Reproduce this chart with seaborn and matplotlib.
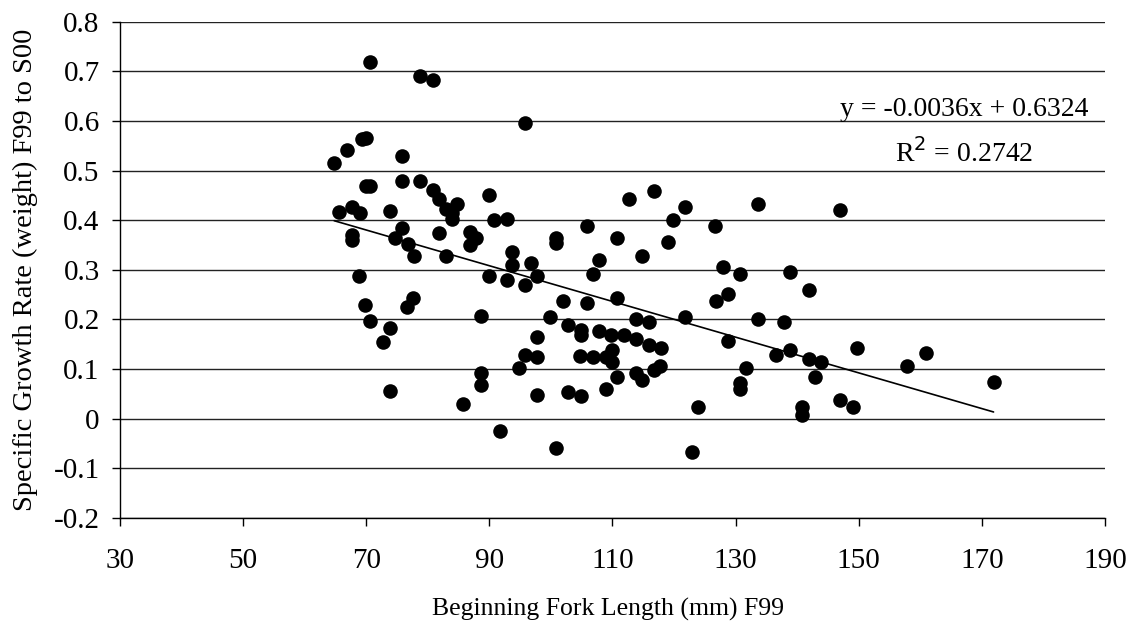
import numpy as np
import pandas as pd
import matplotlib
matplotlib.use("Agg")
import matplotlib.pyplot as plt
import seaborn as sns

# Beginning fork length (mm) F99
fork_length = [
    64.8, 65.6, 66.9, 67.7, 67.7, 67.7, 69.3, 69.9, 69.0, 68.9, 70.0, 70.6, 69.8, 70.6, 70.6,
    72.7, 73.9, 73.9, 73.9, 74.7, 75.9, 75.9, 75.9, 76.8, 76.7, 77.7, 77.6, 78.8, 78.8,
    80.9, 80.9, 81.8, 81.8, 82.9, 83.9, 83.9, 82.9, 84.7, 85.8, 86.8, 87.8, 86.8,
    88.7, 88.7, 88.7, 89.9, 89.9, 90.8, 91.7, 92.9, 92.9, 93.7, 93.7, 94.9, 95.8, 95.8,
    95.8, 96.7, 97.8, 97.8, 97.8, 97.8, 99.8, 100.8, 100.8, 100.8, 102.0, 102.8, 102.8,
    104.9, 104.9, 104.9, 104.8, 105.8, 105.8, 106.9, 106.9, 107.8, 107.8, 108.9, 109.9,
    109.9, 108.9, 109.8, 110.7, 110.7, 110.7, 111.9, 112.7, 113.9, 113.9, 113.9, 114.8,
    114.8, 115.9, 116.0, 116.8, 116.8, 117.8, 117.9, 119.0, 119.8, 121.8, 121.8, 123.0,
    123.9, 126.7, 126.8, 127.9, 128.8, 128.8, 130.8, 130.8, 130.8, 131.7, 133.7, 133.7,
    136.6, 137.9, 138.8, 138.8, 140.8, 140.8, 142.0, 142.0, 142.9, 143.8, 147.0, 147.0,
    149.0, 149.8, 157.8, 161.0, 171.9,
]
# Specific growth rate (weight) F99 to S00
growth_rate = [
    0.515, 0.416, 0.542, 0.426, 0.371, 0.360, 0.564, 0.566, 0.414, 0.288, 0.469, 0.469, 0.229, 0.719, 0.197,
    0.154, 0.418, 0.182, 0.055, 0.364, 0.530, 0.479, 0.385, 0.353, 0.226, 0.328, 0.244, 0.690, 0.479,
    0.682, 0.461, 0.443, 0.375, 0.422, 0.414, 0.403, 0.328, 0.433, 0.030, 0.376, 0.364, 0.350,
    0.208, 0.092, 0.067, 0.451, 0.288, 0.400, -0.024, 0.403, 0.280, 0.336, 0.310, 0.103, 0.596, 0.270,
    0.129, 0.313, 0.288, 0.164, 0.124, 0.048, 0.205, 0.364, 0.355, -0.060, 0.237, 0.189, 0.053,
    0.179, 0.169, 0.045, 0.127, 0.389, 0.233, 0.292, 0.124, 0.176, 0.320, 0.124, 0.139,
    0.115, 0.059, 0.168, 0.364, 0.244, 0.085, 0.168, 0.443, 0.201, 0.161, 0.093, 0.328,
    0.078, 0.194, 0.149, 0.458, 0.098, 0.107, 0.142, 0.356, 0.400, 0.426, 0.205, -0.068,
    0.023, 0.389, 0.237, 0.305, 0.252, 0.157, 0.292, 0.071, 0.059, 0.103, 0.433, 0.201,
    0.129, 0.194, 0.295, 0.139, 0.024, 0.007, 0.259, 0.121, 0.084, 0.114, 0.421, 0.038,
    0.023, 0.142, 0.106, 0.132, 0.074,
]

# Trendline coefficients as labelled on the chart
slope = -0.0036
intercept = 0.6324
r_squared = 0.2742

x_ticks = [30, 50, 70, 90, 110, 130, 150, 170, 190]
y_ticks = [-0.2, -0.1, 0, 0.1, 0.2, 0.3, 0.4, 0.5, 0.6, 0.7, 0.8]
y_tick_labels = ["-0.2", "-0.1", "0", "0.1", "0.2", "0.3", "0.4", "0.5", "0.6", "0.7", "0.8"]

df = pd.DataFrame({"fork": fork_length, "sgr": growth_rate})

sns.set_theme(style="white")
plt.rcParams["font.family"] = ["Liberation Serif", "DejaVu Serif"]

fig = plt.figure(figsize=(11.31, 6.24), dpi=100)
ax = fig.add_axes([0.106, 0.170, 0.871, 0.795])

for yv in y_ticks:
    ax.axhline(yv, color="#222222", linewidth=1.0, zorder=0)

sns.scatterplot(data=df, x="fork", y="sgr", ax=ax, color="black", s=110,
                edgecolor="black", linewidth=0, zorder=3, legend=False)

xl = np.array([min(fork_length), max(fork_length)])
ax.plot(xl, slope * xl + intercept, color="black", linewidth=1.2, zorder=2)

ax.set_xlim(30, 190)
ax.set_ylim(-0.2, 0.8)
ax.set_xticks(x_ticks)
ax.set_xticklabels([str(v) for v in x_ticks])
ax.set_yticks(y_ticks)
ax.set_yticklabels(y_tick_labels)
ax.tick_params(axis="both", labelsize=21, colors="black", direction="out",
               length=5.5, width=1, bottom=True, left=True)
ax.tick_params(axis="x", pad=16)
ax.tick_params(axis="y", pad=9)
for s in ["top", "right"]:
    ax.spines[s].set_visible(False)
for s in ["left", "bottom"]:
    ax.spines[s].set_color("black")
    ax.spines[s].set_linewidth(1.0)

ax.set_xlabel("Beginning Fork Length (mm) F99", fontsize=18.5, color="black", va="center")
ax.set_ylabel("Specific Growth Rate (weight) F99 to S00", fontsize=20.5, color="black", va="center")
ax.xaxis.set_label_coords(0.4959, -0.1855)
ax.yaxis.set_label_coords(-0.0954, 0.5)

ax.text(167.1, 0.6105, f"y = {slope:.4f}x + {intercept:.4f}", fontsize=20,
        ha="center", va="baseline", color="black")
ax.text(167.1, 0.518, f"R$^2$ = {r_squared:.4f}", fontsize=20,
        ha="center", va="baseline", color="black")

fig.savefig("out.png", dpi=100, facecolor="white")
